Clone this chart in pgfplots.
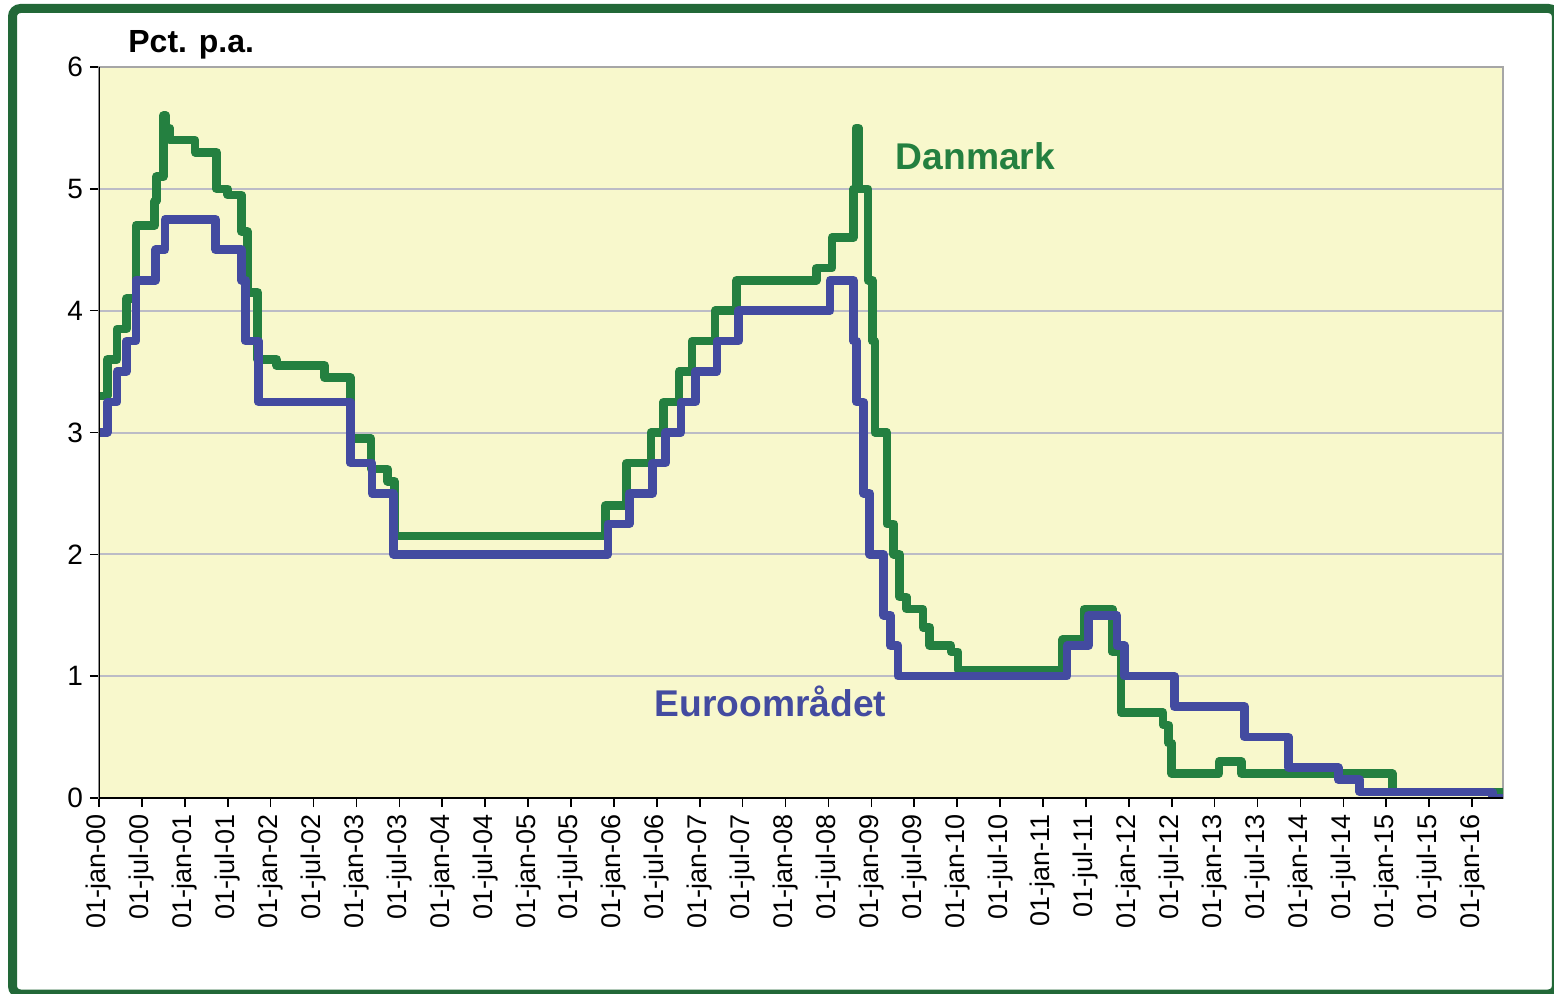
\documentclass[border=0pt]{standalone}
\usepackage{fontspec}
\setmainfont{Liberation Sans}
\usepackage{pgfplots}
\pgfplotsset{compat=1.18}
\definecolor{dkgreen}{RGB}{36,128,64}
\definecolor{eublue}{RGB}{67,75,160}
\definecolor{framegreen}{RGB}{34,104,56}
\definecolor{plotbg}{RGB}{248,248,204}
\definecolor{gridgray}{RGB}{188,188,198}
\begin{document}
\begin{tikzpicture}
\useasboundingbox (0,0) rectangle (777pt,496.5pt);
\fill[white] (0,0) rectangle (777pt,496.5pt);
\draw[framegreen, line width=4.5pt, rounded corners=4pt] (6.25pt,-0.5pt) rectangle (778.2pt,492.25pt);
\node[anchor=base west, inner sep=0pt, font=\bfseries\fontsize{16}{18}\selectfont] at (64pt,470pt) {Pct. p.a.};
\begin{axis}[
  at={(49.5pt,97.5pt)}, anchor=south west,
  scale only axis, width=702pt, height=365.5pt,
  xmin=0, xmax=16.36, ymin=0, ymax=6,
  axis background/.style={fill=plotbg},
  axis line style={draw=gray!70, line width=1pt},
  ymajorgrids, major grid style={gridgray, line width=1pt},
  ytick={0,1,2,3,4,5,6},
  xtick={0,0.5,...,16},
  xticklabels={01-jan-00,01-jul-00,01-jan-01,01-jul-01,01-jan-02,01-jul-02,01-jan-03,01-jul-03,01-jan-04,01-jul-04,01-jan-05,01-jul-05,01-jan-06,01-jul-06,01-jan-07,01-jul-07,01-jan-08,01-jul-08,01-jan-09,01-jul-09,01-jan-10,01-jul-10,01-jan-11,01-jul-11,01-jan-12,01-jul-12,01-jan-13,01-jul-13,01-jan-14,01-jul-14,01-jan-15,01-jul-15,01-jan-16},
  xtick pos=left, ytick pos=left,
  tick align=outside, major tick length=4.5pt,
  tick style={black, line width=0.8pt},
  /pgf/number format/assume math mode=true,
  xticklabel style={rotate=90, anchor=east, font=\fontsize{13.5}{16}\selectfont},
  yticklabel style={font=\fontsize{14}{16}\selectfont},
]
\addplot[const plot, dkgreen, line width=4.3pt, line join=round] coordinates {
(0,3.30) (0.096,3.60) (0.21,3.85) (0.32,4.10) (0.43,4.70) (0.65,4.90) (0.67,5.10)
(0.75,5.60) (0.78,5.50) (0.82,5.40) (1.12,5.30) (1.37,5.00) (1.50,4.95) (1.66,4.65)
(1.73,4.15) (1.85,3.60) (2.07,3.55) (2.63,3.45) (2.93,2.95) (3.17,2.70) (3.36,2.60)
(3.44,2.15) (5.90,2.40) (6.15,2.75) (6.43,3.00) (6.58,3.25) (6.76,3.50) (6.91,3.75)
(7.18,4.00) (7.43,4.25) (8.36,4.35) (8.54,4.60) (8.79,5.00) (8.82,5.50) (8.85,5.00)
(8.96,4.25) (9.01,3.75) (9.04,3.00) (9.18,2.25) (9.26,2.00) (9.33,1.65) (9.41,1.55)
(9.60,1.40) (9.68,1.25) (9.93,1.20) (10.01,1.05) (11.23,1.30) (11.48,1.55) (11.81,1.20)
(11.91,0.70) (12.40,0.60) (12.46,0.45) (12.50,0.20) (13.05,0.30) (13.31,0.20)
(15.07,0.05) (16.36,0.05)
};
\addplot[const plot, eublue, line width=4.3pt, line join=round] coordinates {
(0,3.00) (0.096,3.25) (0.21,3.50) (0.32,3.75) (0.43,4.25) (0.66,4.50) (0.77,4.75)
(1.36,4.50) (1.66,4.25) (1.71,3.75) (1.86,3.25) (2.93,2.75) (3.18,2.50) (3.43,2.00)
(5.93,2.25) (6.18,2.50) (6.45,2.75) (6.60,3.00) (6.78,3.25) (6.95,3.50) (7.20,3.75)
(7.45,4.00) (8.52,4.25) (8.79,3.75) (8.83,3.25) (8.91,2.50) (8.98,2.00) (9.14,1.50)
(9.22,1.25) (9.31,1.00) (11.28,1.25) (11.53,1.50) (11.86,1.25) (11.95,1.00) (12.53,0.75)
(13.35,0.50) (13.86,0.25) (14.44,0.15) (14.69,0.05) (16.24,0.00) (16.36,0.00)
};
\draw[black, line width=1pt] (rel axis cs:0,1) -- (rel axis cs:0,0) -- (rel axis cs:1,0);
\node[anchor=base west, inner sep=0pt, text=dkgreen, font=\bfseries\fontsize{18.6}{20}\selectfont] at (axis cs:9.28,5.16) {Danmark};
\node[anchor=base west, inner sep=0pt, text=eublue, font=\bfseries\fontsize{18.6}{20}\selectfont] at (axis cs:6.47,0.673) {Euroområdet};
\end{axis}
\end{tikzpicture}
\end{document}
